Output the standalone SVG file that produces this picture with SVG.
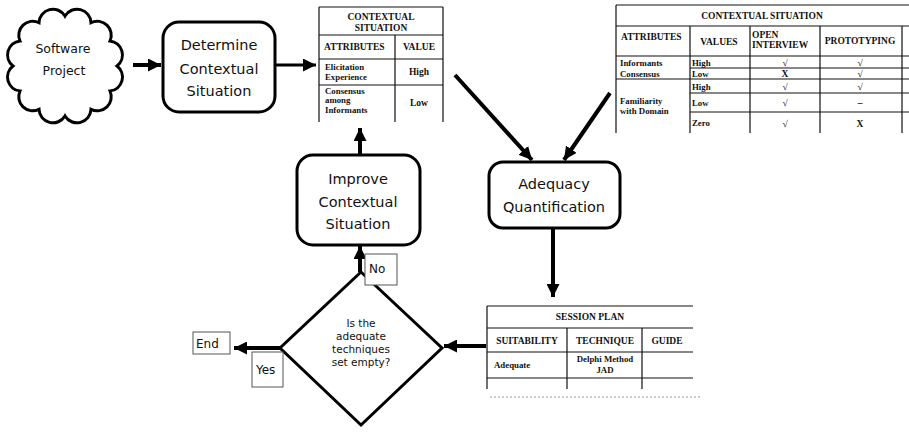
<svg xmlns="http://www.w3.org/2000/svg" width="909" height="432" viewBox="0 0 909 432">
<defs>
<marker id="ah" viewBox="0 0 10 10" refX="10" refY="5" markerWidth="13" markerHeight="13" markerUnits="userSpaceOnUse" orient="auto">
<path d="M0,0 L10,5 L0,10 z" fill="#000"/>
</marker>
<style>
.node{fill:#fff;stroke:#000;stroke-width:3}
.nt{font-family:"DejaVu Sans",sans-serif;font-size:14.5px;fill:#111;text-anchor:middle}
.dt{font-family:"DejaVu Sans",sans-serif;font-size:10.5px;fill:#111;text-anchor:middle}
.lb{fill:#fff;stroke:#555;stroke-width:1}
.lt{font-family:"DejaVu Sans",sans-serif;font-size:12px;fill:#111}
.conn{stroke:#000;stroke-width:4;fill:none;marker-end:url(#ah)}
.tl{stroke:#111;stroke-width:1.2;fill:none}
.th{font-family:"Liberation Serif",serif;font-weight:bold;font-size:9.5px;fill:#111}
.tb{font-family:"Liberation Serif",serif;font-weight:bold;font-size:8.8px;fill:#111}
.c{text-anchor:middle}
</style>
</defs>
<rect width="909" height="432" fill="#fff"/>

<g id="connectors">
<line class="conn" x1="133" y1="65" x2="161" y2="65"/>
<line class="conn" x1="275" y1="65" x2="316" y2="65" style="stroke-width:3"/>
<line class="conn" x1="455" y1="75" x2="532" y2="160"/>
<line class="conn" x1="610" y1="93" x2="564" y2="160"/>
<line class="conn" x1="553" y1="229" x2="553" y2="297"/>
<line class="conn" x1="486" y1="346" x2="444" y2="346"/>
<line class="conn" x1="280" y1="348" x2="234" y2="348"/>
<line class="conn" x1="360" y1="272" x2="360" y2="246"/>
<line class="conn" x1="360" y1="155" x2="360" y2="128"/>
</g>

<g id="software-project">
<path class="node" d="M117,66 A14,14 0 0 1 110,91 A14,14 0 0 1 91,109.3 A14,14 0 0 1 65,116 A14,14 0 0 1 39,109.3 A14,14 0 0 1 20,91 A14,14 0 0 1 13,66 A14,14 0 0 1 20,41 A14,14 0 0 1 39,22.7 A14,14 0 0 1 65,16 A14,14 0 0 1 91,22.7 A14,14 0 0 1 110,41 A14,14 0 0 1 117,66 Z"/>
<text class="nt" x="63" y="53" style="font-size:12.5px">Software</text>
<text class="nt" x="64" y="75" style="font-size:12.5px">Project</text>
</g>

<g id="determine">
<rect class="node" x="163" y="22" width="112" height="90" rx="16"/>
<text class="nt" x="219" y="50">Determine</text>
<text class="nt" x="219" y="74">Contextual</text>
<text class="nt" x="219" y="96">Situation</text>
</g>

<g id="small-table">
<path class="tl" d="M319,7 H443 M319,35 H443 M319,59 H443 M319,85 H443 M319,7 V122 M443,7 V122 M395,35 V122"/>
<text class="th c" x="381" y="20">CONTEXTUAL</text>
<text class="th c" x="381" y="31">SITUATION</text>
<text class="th" x="324" y="50">ATTRIBUTES</text>
<text class="th c" x="419" y="50">VALUE</text>
<text class="tb" x="325" y="70">Elicitation</text>
<text class="tb" x="325" y="80">Experience</text>
<text class="th c" x="419" y="75">High</text>
<text class="tb" x="325" y="94">Consensus</text>
<text class="tb" x="325" y="103">among</text>
<text class="tb" x="325" y="113">Informants</text>
<text class="th c" x="419" y="106">Low</text>
</g>

<g id="large-table">
<path class="tl" d="M616,5 H909 M616,26 H909 M616,56 H909 M690,68 H909 M616,79 H909 M690,93 H909 M690,112 H909 M616,5 V133 M690,26 V133 M750,26 V133 M820,26 V133 M902,26 V133"/>
<text class="th c" x="762" y="19">CONTEXTUAL SITUATION</text>
<text class="th" x="621" y="40">ATTRIBUTES</text>
<text class="th c" x="719" y="45">VALUES</text>
<text class="th" x="752" y="38">OPEN</text>
<text class="th" x="752" y="48">INTERVIEW</text>
<text class="th c" x="860" y="44">PROTOTYPING</text>
<text class="tb" x="620" y="66">Informants</text>
<text class="tb" x="620" y="77">Consensus</text>
<text class="tb" x="620" y="104">Familiarity</text>
<text class="tb" x="620" y="114">with Domain</text>
<text class="tb" x="692" y="66">High</text>
<text class="tb" x="692" y="77">Low</text>
<text class="tb" x="692" y="90">High</text>
<text class="tb" x="692" y="106">Low</text>
<text class="tb" x="692" y="126">Zero</text>
<text class="th c" x="785" y="66">√</text>
<text class="th c" x="860" y="66">√</text>
<text class="th c" x="785" y="77">X</text>
<text class="th c" x="860" y="77">√</text>
<text class="th c" x="785" y="90">√</text>
<text class="th c" x="860" y="90">√</text>
<text class="th c" x="785" y="106">√</text>
<text class="th c" x="860" y="106">–</text>
<text class="th c" x="785" y="127">√</text>
<text class="th c" x="860" y="127">X</text>
</g>

<g id="adequacy">
<rect class="node" x="489" y="162" width="131" height="66" rx="14"/>
<text class="nt" x="554" y="189">Adequacy</text>
<text class="nt" x="554" y="212">Quantification</text>
</g>

<g id="improve">
<rect class="node" x="297" y="155" width="123" height="90" rx="16"/>
<text class="nt" x="358" y="184">Improve</text>
<text class="nt" x="358" y="207">Contextual</text>
<text class="nt" x="358" y="229">Situation</text>
</g>

<g id="session-plan">
<path class="tl" d="M487,306 H693 M487,328 H693 M487,352 H693 M487,378 H693 M487,306 V389 M567,328 V389 M642,328 V389"/>
<path d="M490,397 H700" stroke="#bbb" stroke-width="1.5" stroke-dasharray="2 2" fill="none"/>
<text class="th c" x="590" y="320">SESSION PLAN</text>
<text class="th c" x="527" y="344">SUITABILITY</text>
<text class="th c" x="605" y="344">TECHNIQUE</text>
<text class="th c" x="667" y="344">GUIDE</text>
<text class="tb" x="494" y="368">Adequate</text>
<text class="tb c" x="605" y="362">Delphi Method</text>
<text class="tb c" x="605" y="373">JAD</text>
</g>

<g id="decision">
<polygon class="node" points="361,272 442,348 361,425 280,348"/>
<text class="dt" x="361" y="327">Is the</text>
<text class="dt" x="361" y="340">adequate</text>
<text class="dt" x="361" y="353">techniques</text>
<text class="dt" x="361" y="366">set empty?</text>
</g>

<g id="end">
<rect class="lb" x="193" y="332" width="37" height="22"/>
<text class="lt" x="196" y="348">End</text>
</g>

<g id="label-yes">
<rect class="lb" x="252" y="352" width="31" height="35"/>
<text class="lt" x="256" y="374">Yes</text>
</g>

<g id="label-no">
<rect class="lb" x="365" y="254" width="32" height="31"/>
<text class="lt" x="369" y="273">No</text>
</g>
</svg>
